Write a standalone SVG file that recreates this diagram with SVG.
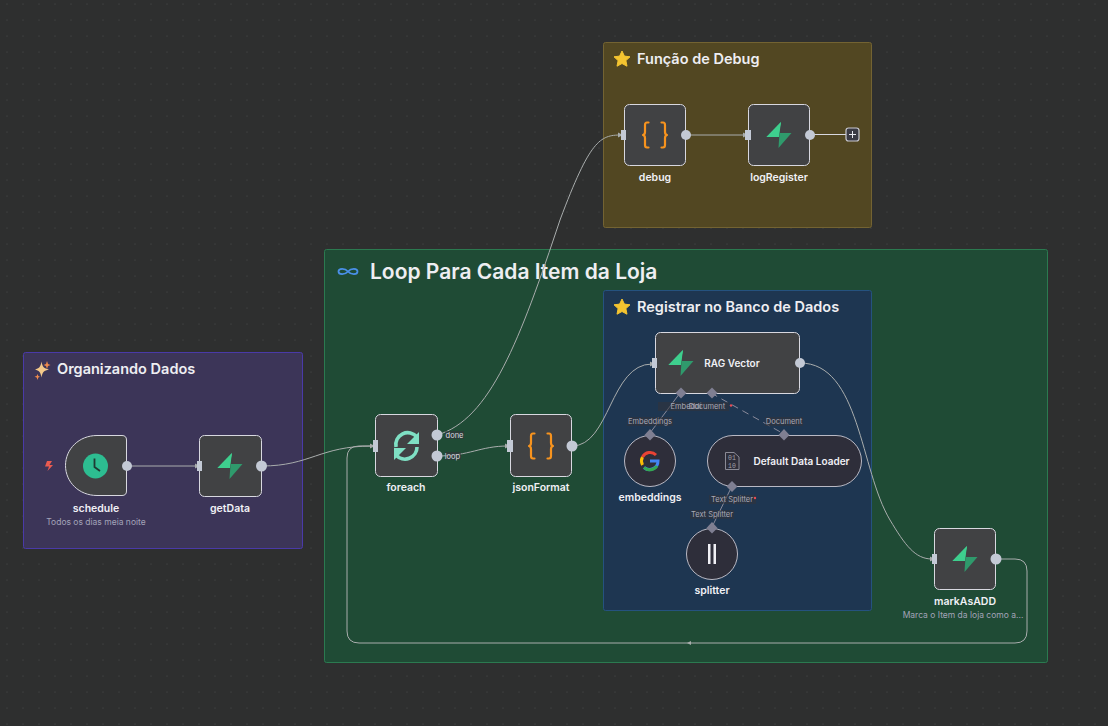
<svg xmlns="http://www.w3.org/2000/svg" width="1108" height="726" viewBox="0 0 1108 726">
<style>
text{font-family:Inter,"Liberation Sans",sans-serif}
.lbl{font-size:10.5px;font-weight:600;fill:#f0f0f5;text-anchor:middle}
.sub{font-size:8.5px;fill:#a3a3b8;text-anchor:middle}
.title{font-size:14.5px;font-weight:600;fill:#eeeef2}
.card{fill:#414244;stroke:#d8d8e0;stroke-width:1}
.sq{fill:#2e2e3a;stroke:#b9b9c4;stroke-width:1}
.dotp{fill:#c3c9d5}
.port{fill:#c3c9d5}
.dia{fill:#7f7f92}
.con{fill:none;stroke:#a9adad;stroke-width:1}
.dash{fill:none;stroke:#8a8a9a;stroke-width:1;stroke-dasharray:7 5}
.tag{font-size:7.5px;fill:#a9a9b5;text-anchor:middle}
.tagbg{fill:#33333a;opacity:.55}
</style>
<defs>
<pattern id="grid" width="16" height="16" patternUnits="userSpaceOnUse"><circle cx="7" cy="4" r=".6" fill="#4a4d4d"/></pattern>
<linearGradient id="bolt1" x1="0" y1="0" x2="1" y2="1"><stop offset="0" stop-color="#3ecf8e"/><stop offset="1" stop-color="#2b9e6c"/></linearGradient>
<g id="bolt"><path d="M2-13 L-12.500 2 H0 Z" fill="#3ecf8e"/><path d="M-12.500 2 L-1 2 L2-13 Z" fill="#3ecf8e"/><path d="M-2 12.500 L12.500-1.500 H0 L2-13 L-1 2 Z" fill="none"/><path d="M-0.500 13 L12.500-2 H0.500 Z" fill="#2f9a6c"/></g>
<g id="braces" fill="none" stroke="#f7931e" stroke-width="2.200" stroke-linecap="round" stroke-linejoin="round"><path d="M-6.500-12.500 H-8 Q-10-12.500 -10-10 V-3 Q-10-.5 -12 0 Q-10 .5 -10 3 V10 Q-10 12.500 -8 12.500 H-6.500"/><path d="M6.500-12.500 H8 Q10-12.500 10-10 V-3 Q10-.5 12 0 Q10 .5 10 3 V10 Q10 12.500 8 12.500 H6.500"/></g>
<path id="star" d="M0-8 L2.400-2.900 L8-2.200 L3.900 1.600 L5 7.200 L0 4.500 L-5 7.200 L-3.900 1.600 L-8-2.200 L-2.400-2.900 Z" fill="#f4c430" stroke="#f4c430" stroke-width="1" stroke-linejoin="round"/>
<path id="head" d="M0-2.500 L5 0 L0 2.500 Z" fill="#a9adad"/>
</defs>
<rect width="1108" height="726" fill="#2e2f2f"/>
<rect width="1108" height="726" fill="url(#grid)"/>

<g id="group-debug"><rect x="603.500" y="42.500" width="268" height="185" rx="2" fill="#524722" stroke="#736332"/><use href="#star" x="622" y="59"/><text class="title" x="637" y="64">Função de Debug</text></g>
<g id="group-loop"><rect x="324.500" y="249.500" width="723" height="413" rx="2" fill="#1f4b35" stroke="#2b7a50"/><path d="M348 271.500c-3-3.500-9.500-3.500-9.500 0s6.500 3.500 9.500 0c3-3.500 9.500-3.500 9.500 0s-6.500 3.500-9.500 0z" transform="translate(0 0)" fill="none" stroke="#4a90e8" stroke-width="1.800"/><text class="title" x="370" y="279" style="font-size:21px">Loop Para Cada Item da Loja</text></g>
<g id="group-rag"><rect x="603.500" y="290.500" width="268" height="320" rx="2" fill="#1e3651" stroke="#25527f"/><use href="#star" x="622" y="307"/><text class="title" x="637" y="312">Registrar no Banco de Dados</text></g>
<g id="group-org"><rect x="23.500" y="352.500" width="279" height="196" rx="2" fill="#3c3558" stroke="#4a3aa8"/><path d="M41.500 361.500 C42.500 367 44 368.500 49 369.500 C44 370.500 42.500 372 41.500 377.500 C40.500 372 39 370.500 35 369.500 C39 368.500 40.500 367 41.500 361.500Z" fill="#f4c98a"/><path d="M47 361 L48 364 L50.500 365 L48 366 L47 369 L46 366 L43.500 365 L46 364Z" fill="#f08a4b"/><path d="M37.500 374 L38.300 376 L40 376.800 L38.300 377.600 L37.500 380 L36.700 377.600 L34.500 376.800 L36.700 376Z" fill="#f08a4b"/><text class="title" x="57" y="374">Organizando Dados</text></g>

<g id="connectors">
<path class="con" d="M127 466 H197"/><use href="#head" x="195" y="466"/>
<path class="con" d="M262 466 C310 466 320 446 372 446"/><use href="#head" x="370" y="446"/>
<path class="con" d="M437 435 C490 420 520 340 560 220 C590 140 600 135 621 135"/><use href="#head" x="618" y="135"/>
<path class="con" d="M437 456 C470 456 480 446 508 446"/><use href="#head" x="505" y="446"/>
<path class="con" d="M572 446 C610 446 610 364 652 364"/><use href="#head" x="650" y="364"/>
<path class="con" d="M686 135 H746"/><use href="#head" x="743" y="135"/>
<path d="M810 134.500 H846" fill="none" stroke="#d8d8e0" stroke-width="1"/>
<path class="con" d="M800 363 C860 363 860 470 890 520 C905 545 915 559 932 559"/><use href="#head" x="930" y="559"/>
<path class="con" d="M996 559 H1015 Q1027 559 1027 571 V631 Q1027 643 1015 643 H359 Q347 643 347 631 V458 Q347 446 359 446 H372"/><path d="M687 643 L691 641 V645 Z" fill="#a9adad"/>
<path class="dash" d="M680 393 L650 433" style="stroke-dasharray:none"/>
<path class="dash" d="M711 393 L784 434"/>
<path class="dash" d="M732 486 L712 527" style="stroke-dasharray:none"/>
</g>

<g id="schedule"><path class="card" d="M97 435.500 H122 Q126.500 435.500 126.500 440 V491 Q126.500 495.500 122 495.500 H97 C79 495.500 65.500 482 65.500 465.500 C65.500 449 79 435.500 97 435.500Z"/><circle cx="95.500" cy="466" r="12.500" fill="#2dbd91"/><path d="M94.500 458.500 V467 L100 471" fill="none" stroke="#1f3a33" stroke-width="1.800"/><path d="M47 461 L52 461 L49.500 465 L53 465 L47.500 471 L49 466.500 L45 466.500 Z" fill="#ea5b50"/><circle class="port" cx="127" cy="466" r="5"/><text class="lbl" x="96" y="512">schedule</text><text class="sub" x="96" y="525">Todos os dias meia noite</text></g>
<g id="getData"><rect class="card" x="199.500" y="435.500" width="62" height="61" rx="5"/><use href="#bolt" x="230" y="466"/><rect class="port" x="197" y="461" width="5" height="10"/><circle class="port" cx="261.500" cy="466" r="5.500"/><text class="lbl" x="230" y="512">getData</text></g>
<g id="foreach"><rect class="card" x="375.500" y="414.500" width="62" height="62" rx="5"/><g fill="none" stroke="#7fe0c4" stroke-width="3.600"><path d="M396 447 A12 12 0 0 1 417 437"/><path d="M417 447 A12 12 0 0 1 396 455"/></g><path d="M419 432 V444 H407 Z" fill="#7fe0c4"/><path d="M394 460 V448 H406 Z" fill="#7fe0c4"/><rect class="port" x="373" y="440" width="5" height="12"/><circle class="port" cx="437" cy="435" r="5.500"/><circle class="port" cx="437" cy="456" r="5.500"/><rect x="445" y="431" width="19" height="8" fill="#33333a" opacity=".55"/><rect x="445" y="452" width="16" height="8" fill="#33333a" opacity=".55"/><text class="tag" x="454.500" y="438" style="fill:#dcdce0">done</text><text class="tag" x="452.500" y="459" style="fill:#dcdce0">loop</text><text class="lbl" x="406" y="491">foreach</text></g>
<g id="jsonFormat"><rect class="card" x="510.500" y="414.500" width="61" height="62" rx="5"/><use href="#braces" x="541" y="446"/><rect class="port" x="507" y="440" width="6" height="12"/><circle class="port" cx="572" cy="446" r="5.500"/><text class="lbl" x="541" y="491">jsonFormat</text></g>
<g id="debug"><rect class="card" x="624.500" y="104.500" width="61" height="61" rx="5"/><use href="#braces" x="655" y="135"/><rect class="port" x="621" y="130" width="5" height="10"/><circle class="port" cx="686" cy="135" r="5"/><text class="lbl" x="655" y="181">debug</text></g>
<g id="logRegister"><rect class="card" x="748.500" y="104.500" width="61" height="61" rx="5"/><use href="#bolt" x="779" y="135"/><rect class="port" x="745" y="130" width="6" height="10"/><circle class="port" cx="810" cy="135" r="5"/><rect x="846" y="128" width="13" height="13" rx="2.500" fill="#3a3a44" stroke="#c8c8d0" stroke-width="1.200"/><path d="M849 134.500 H856 M852.500 131 V138" stroke="#e8e8ee" stroke-width="1"/><text class="lbl" x="779" y="181">logRegister</text></g>
<g id="ragVector"><rect class="card" x="655.500" y="332.500" width="144" height="61" rx="5"/><use href="#bolt" x="681" y="363"/><rect class="port" x="652" y="358" width="5" height="10"/><circle class="port" cx="800" cy="363" r="5"/><path class="dia" d="M681 387.500 L686.500 393 L681 398.500 L675.500 393Z"/><path class="dia" d="M712 387.500 L717.500 393 L712 398.500 L706.500 393Z"/><rect class="tagbg" x="658" y="402" width="71" height="9"/><text class="tag" x="686" y="409">Embeddi</text><text class="tag" x="707" y="409">Document</text><circle cx="731" cy="405.500" r="1.200" fill="#ea4b55"/><text x="732" y="409" style="font-size:0"></text><text class="lbl" x="732" y="367" style="font-size:10px">RAG Vector</text></g>
<g id="embeddings"><circle class="sq" cx="650" cy="461" r="25.500"/><path d="M650 461 H658 A8.500 8.500 0 0 1 644 467.500" fill="none" stroke="#4285f4" stroke-width="3"/><path d="M644 467.500 A8.500 8.500 0 0 0 657 466" fill="none" stroke="#34a853" stroke-width="3"/><path d="M642.500 457 A8.500 8.500 0 0 0 642.500 465" fill="none" stroke="#fbbc05" stroke-width="3"/><path d="M642.500 457 A8.500 8.500 0 0 1 656 455" fill="none" stroke="#ea4335" stroke-width="3"/><path class="dia" d="M650 429 L655.500 435 L650 440.500 L644.500 435Z"/><rect class="tagbg" x="627" y="417" width="46" height="9"/><text class="tag" x="650" y="424">Embeddings</text><text class="lbl" x="650" y="501">embeddings</text></g>
<g id="dataLoader"><rect class="sq" x="707.500" y="435.500" width="154" height="51" rx="25.500"/><path d="M725.500 452.500 H734 L739 457 V469.500 H725.500Z" fill="none" stroke="#8b8b96" stroke-width="1"/><text x="732" y="460" style="font-size:6.500px;fill:#a0a0aa;text-anchor:middle;font-family:'Liberation Mono',monospace">01</text><text x="732" y="468" style="font-size:6.500px;fill:#a0a0aa;text-anchor:middle;font-family:'Liberation Mono',monospace">10</text><path class="dia" d="M784 429 L789.500 435 L784 440.500 L778.500 435Z"/><path class="dia" d="M732 481 L737.500 486.500 L732 492 L726.500 486.500Z"/><rect class="tagbg" x="765" y="417" width="38" height="9"/><text class="tag" x="784" y="424">Document</text><rect class="tagbg" x="709" y="495" width="47" height="9"/><text class="tag" x="732" y="502">Text Splitter</text><circle cx="755" cy="498" r="1.200" fill="#ea4b55"/><text class="lbl" x="801.500" y="465" style="font-size:10px">Default Data Loader</text></g>
<g id="splitter"><circle class="sq" cx="712" cy="554" r="25.500"/><rect x="708" y="544" width="2.500" height="20" fill="#f0f0f5"/><rect x="713.500" y="544" width="2.500" height="20" fill="#f0f0f5"/><path class="dia" d="M712 522 L717.500 528 L712 533.500 L706.500 528Z"/><rect class="tagbg" x="690" y="510" width="44" height="9"/><text class="tag" x="712" y="517">Text Splitter</text><text class="lbl" x="712" y="594">splitter</text></g>
<g id="markAsADD"><rect class="card" x="934.500" y="528.500" width="61" height="61" rx="5"/><use href="#bolt" x="965" y="559"/><rect class="port" x="932" y="554" width="5" height="10"/><circle class="port" cx="996" cy="559" r="5.500"/><text class="lbl" x="965" y="605">markAsADD</text><text class="sub" x="963" y="618">Marca o Item da loja como a...</text></g>
</svg>
